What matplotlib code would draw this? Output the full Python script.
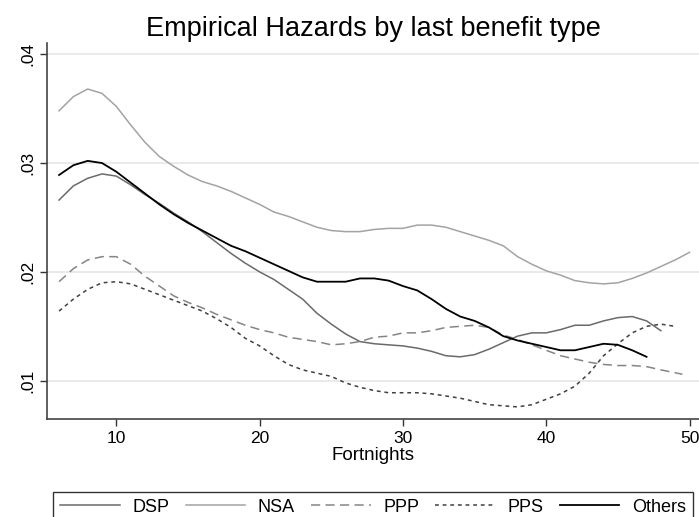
import numpy as np
import matplotlib
matplotlib.use("Agg")
import matplotlib.pyplot as plt

plt.rcParams['font.family'] = ['Liberation Sans', 'DejaVu Sans']

# smoothed hazard per fortnight
dsp_x = list(range(6, 49))
dsp = [0.0266, 0.0279, 0.0286, 0.0290, 0.0288, 0.0280, 0.0271, 0.0263, 0.0254, 0.0246,
       0.0237, 0.0227, 0.0217, 0.0208, 0.0200, 0.0193, 0.0184, 0.0175, 0.0162, 0.0152,
       0.0143, 0.0136, 0.0134, 0.0133, 0.0132, 0.0130, 0.0127, 0.0123, 0.0122, 0.0124,
       0.0129, 0.0135, 0.0141, 0.0144, 0.0144, 0.0147, 0.0151, 0.0151, 0.0155, 0.0158,
       0.0159, 0.0155, 0.0146]

nsa_x = list(range(6, 51))
nsa = [0.0348, 0.0361, 0.0368, 0.0364, 0.0352, 0.0335, 0.0319, 0.0306, 0.0297, 0.0289,
       0.0283, 0.0279, 0.0274, 0.0268, 0.0262, 0.0255, 0.0251, 0.0246, 0.0241, 0.0238,
       0.0237, 0.0237, 0.0239, 0.0240, 0.0240, 0.0243, 0.0243, 0.0241, 0.0237, 0.0233,
       0.0229, 0.0224, 0.0214, 0.0207, 0.0201, 0.0197, 0.0192, 0.0190, 0.0189, 0.0190,
       0.0194, 0.0199, 0.0205, 0.0211, 0.0218]

ppp_x = list(range(6, 49)) + [49.5]
ppp = [0.0191, 0.0203, 0.0211, 0.0214, 0.0214, 0.0207, 0.0196, 0.0187, 0.0178, 0.0172,
       0.0167, 0.0161, 0.0156, 0.0151, 0.0147, 0.0144, 0.0140, 0.0138, 0.0136, 0.0133,
       0.0134, 0.0136, 0.0140, 0.0141, 0.0144, 0.0144, 0.0146, 0.0149, 0.0150, 0.0151,
       0.0149, 0.0142, 0.0138, 0.0133, 0.0128, 0.0123, 0.0120, 0.0117, 0.0115, 0.0114,
       0.0114, 0.0113, 0.0110, 0.0106]

pps_x = list(range(6, 50))
pps = [0.0164, 0.0175, 0.0184, 0.0190, 0.0191, 0.0189, 0.0184, 0.0179, 0.0174, 0.0169,
       0.0164, 0.0157, 0.0149, 0.0139, 0.0132, 0.0123, 0.0115, 0.0110, 0.0107, 0.0104,
       0.0098, 0.0094, 0.0091, 0.0089, 0.0089, 0.0089, 0.0088, 0.0086, 0.0084, 0.0081,
       0.0078, 0.0077, 0.0076, 0.0078, 0.0083, 0.0088, 0.0095, 0.0107, 0.0123, 0.0134,
       0.0144, 0.0150, 0.0152, 0.0150]

oth_x = list(range(6, 48))
oth = [0.0289, 0.0298, 0.0302, 0.0300, 0.0292, 0.0282, 0.0272, 0.0262, 0.0253, 0.0245,
       0.0238, 0.0231, 0.0224, 0.0219, 0.0213, 0.0207, 0.0201, 0.0195, 0.0191, 0.0191,
       0.0191, 0.0194, 0.0194, 0.0192, 0.0187, 0.0183, 0.0175, 0.0166, 0.0159, 0.0155,
       0.0149, 0.0141, 0.0137, 0.0134, 0.0131, 0.0128, 0.0128, 0.0131, 0.0134, 0.0133,
       0.0128, 0.0122]

fig = plt.figure(figsize=(6.99, 5.17), dpi=100)
ax = fig.add_axes([47/699, 97.7/517, 652/699, 376/517])

ax.plot(dsp_x, dsp, color='#6a6a6a', lw=1.1, label='DSP')
ax.plot(nsa_x, nsa, color='#a3a3a3', lw=1.1, label='NSA')
l1, = ax.plot(ppp_x, ppp, color='#858585', lw=1.1, label='PPP')
l1.set_dashes((6, 3.5))
l2, = ax.plot(pps_x, pps, color='#404040', lw=1.1, label='PPS')
l2.set_dashes((2.5, 2.5))
ax.plot(oth_x, oth, color='black', lw=1.3, label='Others')

ax.set_xlim(5.16, 50.66)
ax.set_ylim(0.00646, 0.0410)
ax.set_xticks([10, 20, 30, 40, 50])
ax.set_yticks([0.01, 0.02, 0.03, 0.04])
ax.set_yticklabels(['.01', '.02', '.03', '.04'], rotation=90, va='center')
ax.tick_params(labelsize=12.5, length=5, color='#333333', width=1)
ax.grid(axis='y', color='#e4e4e4', lw=1.1)
ax.set_axisbelow(True)
for s in ['top', 'right']:
    ax.spines[s].set_visible(False)
for s in ['left', 'bottom']:
    ax.spines[s].set_color('#444444')
    ax.spines[s].set_linewidth(1.2)

ax.set_xlabel('Fortnights', fontsize=13.5, labelpad=1)
ax.set_title('Empirical Hazards by last benefit type', fontsize=19.5, pad=5)

leg = fig.legend(loc='lower left', bbox_to_anchor=(53/699, -6/517, 640/699, 41/517),
                 mode='expand', ncol=5, fontsize=13, handlelength=3.3,
                 handletextpad=0.7, frameon=True, fancybox=False, borderaxespad=0)
leg.get_frame().set_edgecolor('black')
leg.get_frame().set_linewidth(1)

plt.savefig('out.png', dpi=100)
